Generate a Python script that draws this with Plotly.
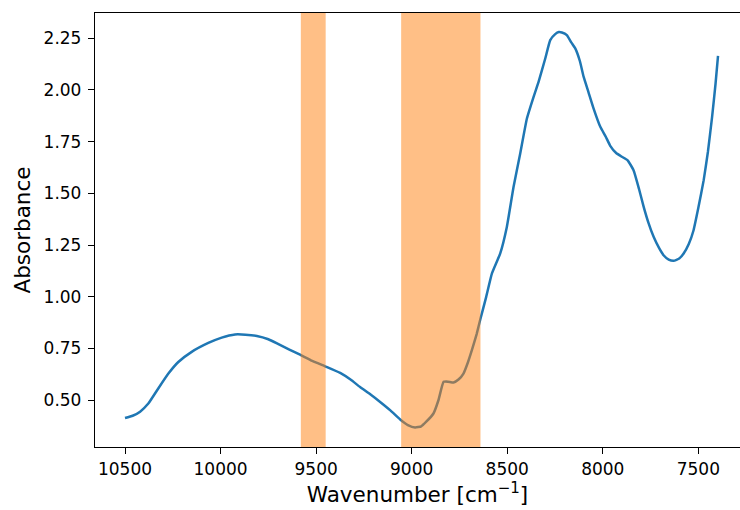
import plotly.graph_objects as go

wavenumber = [10500, 10460, 10421, 10378, 10326, 10273, 10221, 10151, 10064, 9994,
              9924, 9870, 9810, 9750, 9697, 9640, 9584, 9520, 9453, 9374,
              9320, 9270, 9215, 9165, 9110, 9060, 9020, 8982, 8950, 8925,
              8886, 8860, 8833, 8810, 8781, 8755, 8729, 8705, 8685, 8660,
              8641, 8610, 8580, 8537, 8502, 8467, 8432, 8397, 8362, 8336,
              8301, 8275, 8249, 8230, 8214, 8188, 8165, 8144, 8120, 8100,
              8075, 8048, 8013, 7985, 7961, 7930, 7900, 7870, 7839, 7810,
              7786, 7760, 7734, 7705, 7682, 7655, 7629, 7600, 7577, 7550,
              7525, 7500, 7472, 7450, 7428, 7410, 7397]
absorbance = [0.414, 0.425, 0.445, 0.484, 0.557, 0.629, 0.685, 0.734, 0.777, 0.803,
              0.818, 0.817, 0.811, 0.795, 0.771, 0.745, 0.720, 0.690, 0.664, 0.632,
              0.600, 0.564, 0.528, 0.492, 0.450, 0.407, 0.380, 0.368, 0.374, 0.395,
              0.436, 0.500, 0.589, 0.590, 0.586, 0.600, 0.629, 0.685, 0.742, 0.820,
              0.890, 1.000, 1.113, 1.209, 1.338, 1.531, 1.693, 1.862, 1.967, 2.039,
              2.152, 2.241, 2.270, 2.280, 2.278, 2.265, 2.230, 2.201, 2.140, 2.063,
              1.990, 1.910, 1.822, 1.775, 1.730, 1.695, 1.677, 1.660, 1.612, 1.520,
              1.435, 1.355, 1.290, 1.235, 1.201, 1.180, 1.174, 1.185, 1.209, 1.255,
              1.322, 1.430, 1.564, 1.700, 1.870, 2.030, 2.165]

span_starts = [9580, 9055]
span_ends = [9450, 8640]

x_ticks = [10500, 10000, 9500, 9000, 8500, 8000, 7500]
y_ticks = [0.50, 0.75, 1.00, 1.25, 1.50, 1.75, 2.00, 2.25]

fig = go.Figure()
fig.add_trace(go.Scatter(x=wavenumber, y=absorbance, mode="lines",
                         line=dict(color="#1f77b4", width=2.5, shape="spline", smoothing=0.4),
                         showlegend=False, hoverinfo="skip"))

for s, e in zip(span_starts, span_ends):
    fig.add_shape(type="rect", xref="x", yref="paper", x0=s, x1=e, y0=0, y1=1,
                  fillcolor="#ff7f0e", opacity=0.5, line=dict(width=0), layer="above")

fig.update_layout(
    width=740, height=510,
    margin=dict(l=95, r=0, t=13, b=63),
    paper_bgcolor="white", plot_bgcolor="white",
    font=dict(family="DejaVu Sans", size=17, color="black"),
    xaxis=dict(range=[10657, 7282], tickvals=x_ticks, ticktext=[str(v) for v in x_ticks],
               automargin=False,
               showgrid=False, zeroline=False, showline=True, linecolor="black", linewidth=1.3,
               mirror=True, ticks="outside", ticklen=6, tickwidth=1.3, tickcolor="black",
               tickfont=dict(size=17, family="DejaVu Sans", color="black"),
               title=dict(text="Wavenumber [cm<sup>−1</sup>]", font=dict(size=21.5, family="DejaVu Sans", color="black"), standoff=0)),
    yaxis=dict(range=[0.274, 2.372], tickvals=y_ticks, ticktext=["%.2f" % v for v in y_ticks],
               automargin=False, ticklabelstandoff=3,
               showgrid=False, zeroline=False, showline=True, linecolor="black", linewidth=1.3,
               mirror=False, ticks="outside", ticklen=6, tickwidth=1.3, tickcolor="black",
               tickfont=dict(size=17, family="DejaVu Sans", color="black"),
               title=dict(text="Absorbance", font=dict(size=21.5, family="DejaVu Sans", color="black"), standoff=7)),
)

fig.write_html("out.html", config={"displayModeBar": False},
               post_script="document.body.style.margin='0px';document.body.style.overflow='hidden';")
